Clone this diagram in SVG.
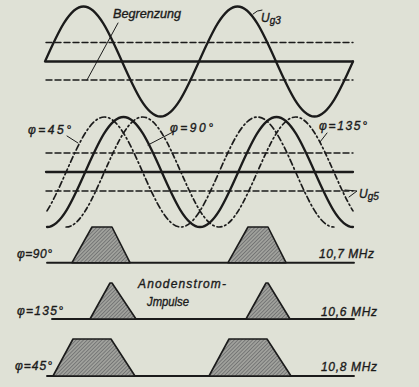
<svg xmlns="http://www.w3.org/2000/svg" width="419" height="387" viewBox="0 0 419 387">
<defs>
<style>
.bg{fill:#dfe1d6}
.ln{fill:none;stroke:#1b1b1b;stroke-linecap:round;stroke-linejoin:round}
.sol{stroke-width:2.3}
.base{stroke-width:1.9}
.lim{stroke-width:1.4;stroke-dasharray:6 3}
.dd{stroke-width:1.7;stroke-dasharray:6 3 1.5 3}
.dd2{stroke-width:1.7;stroke-dasharray:5 3 1.5 3}
.lead{stroke-width:1}
.pulse{fill:url(#hatch);stroke:#1b1b1b;stroke-width:1.6;stroke-linejoin:round}
text{font-family:"Liberation Sans",Arial,sans-serif;font-style:italic;fill:#1b1b1b;stroke:#1b1b1b;stroke-width:0.35;font-size:12px}
.sub{font-size:10px}
</style>
<pattern id="hatch" patternUnits="userSpaceOnUse" width="2.6" height="2.6" patternTransform="rotate(45)">
<rect width="2.6" height="2.6" fill="#a0a19c"/>
<line x1="0" y1="0" x2="0" y2="2.6" stroke="#505154" stroke-width="1"/>
</pattern>
</defs>
<rect class="bg" x="0" y="0" width="419" height="387"/>

<g id="top-waveform">
<line class="ln lim" x1="46" y1="42.5" x2="353" y2="42.5"/>
<line class="ln sol" x1="46" y1="61.5" x2="353" y2="61.5"/>
<line class="ln lim" x1="46" y1="80" x2="353" y2="80"/>
<path class="ln sol" d="M45,61.5 C57.56,33.32 69.57,6.5 83.5,6.5 C97.43,6.5 109.45,33.32 122,61.5 C134.56,89.68 146.57,116.5 160.5,116.5 C174.43,116.5 186.45,89.68 199,61.5 C211.56,33.32 223.57,6.5 237.5,6.5 C251.43,6.5 263.45,33.32 276,61.5 C288.56,89.68 300.57,116.5 314.5,116.5 C328.43,116.5 340.45,89.68 353,61.5"/>
</g>

<g id="middle-waveforms">
<line class="ln lim" x1="46" y1="153" x2="353" y2="153"/>
<line class="ln sol" x1="46" y1="172" x2="353" y2="172"/>
<line class="ln lim" x1="46" y1="191" x2="353" y2="191"/>
<path id="phi90" class="ln sol" d="M47,227 C60.84,227 72.78,200.18 85.25,172 C97.72,143.82 109.66,117 123.5,117 C137.34,117 149.28,143.82 161.75,172 C174.22,200.18 186.16,227 200,227 C213.84,227 225.78,200.18 238.25,172 C250.72,143.82 262.66,117 276.5,117 C290.34,117 302.28,143.82 314.75,172 C327.22,200.18 339.16,227 353,227"/>
<path id="phi45" class="ln dd" d="M47,210.89 C53.38,200.71 59.75,186.4 66.13,172 C78.6,143.82 90.53,117 104.38,117 C118.22,117 130.15,143.82 142.63,172 C155.1,200.18 167.03,227 180.88,227 C194.72,227 206.65,200.18 219.13,172 C231.6,143.82 243.53,117 257.38,117 C271.22,117 283.15,143.82 295.63,172 C308.1,200.18 320.03,227 333.88,227"/>
<path id="phi135" class="ln dd2" d="M66.13,227 C79.97,227 91.9,200.18 104.38,172 C116.85,143.82 128.78,117 142.63,117 C156.47,117 168.4,143.82 180.88,172 C193.35,200.18 205.28,227 219.13,227 C232.97,227 244.9,200.18 257.38,172 C269.85,143.82 281.78,117 295.63,117 C309.47,117 321.4,143.82 333.88,172 C340.25,186.4 346.63,200.71 353,210.89"/>
</g>

<g id="leaders">
<line class="ln lead" x1="118" y1="23" x2="87" y2="80"/>
<path class="ln lead" d="M253,14 Q257,10 262,10"/>
<line class="ln lead" x1="67" y1="136" x2="78" y2="143"/>
<line class="ln lead" x1="173" y1="132" x2="148" y2="145"/>
<line class="ln lead" x1="327" y1="133" x2="320" y2="142"/>
<path class="ln lead" d="M345,190 L357,191 L349,197"/>
</g>

<g id="labels">
<text x="113" y="18" font-size="12.5" textLength="68" lengthAdjust="spacingAndGlyphs">Begrenzung</text>
<text x="261" y="22">U<tspan class="sub" dy="2">g3</tspan></text>
<text x="28" y="134" textLength="43" lengthAdjust="spacing">φ=45°</text>
<text x="170" y="132" textLength="43" lengthAdjust="spacing">φ=90°</text>
<text x="319" y="130" textLength="48" lengthAdjust="spacing">φ=135°</text>
<text x="359" y="198">U<tspan class="sub" dy="2">g5</tspan></text>
</g>

<g id="row-10-7">
<line class="ln base" x1="47" y1="262.7" x2="354" y2="262.7"/>
<polygon class="pulse" points="72,262.7 92,227 112,227 130,262.7"/>
<polygon class="pulse" points="228,262.7 248,227 268,227 286,262.7"/>
<text x="17" y="258" font-size="11" textLength="35" lengthAdjust="spacing">φ=90°</text>
<text x="319" y="258" font-size="12.5" textLength="55" lengthAdjust="spacing">10,7 MHz</text>
</g>

<g id="row-10-6">
<line class="ln base" x1="52" y1="319" x2="354" y2="319"/>
<polygon class="pulse" points="90,319 110,283 112,283 136,319"/>
<polygon class="pulse" points="246,319 266,283 268,283 290,319"/>
<text x="17" y="315" font-size="11.5" textLength="46" lengthAdjust="spacing">φ=135°</text>
<text x="321" y="316" font-size="12.5" textLength="56" lengthAdjust="spacing">10,6 MHz</text>
<text x="138" y="288" font-size="12.5" textLength="88" lengthAdjust="spacing">Anodenstrom-</text>
<text x="147" y="306" font-size="12.5" textLength="42" lengthAdjust="spacingAndGlyphs">Jmpulse</text>
</g>

<g id="row-10-8">
<line class="ln base" x1="47" y1="376" x2="354" y2="376"/>
<polygon class="pulse" points="53,376 73,339 111,339 135,376"/>
<polygon class="pulse" points="209,376 229,339 267,339 291,376"/>
<text x="15" y="370" font-size="11" textLength="37" lengthAdjust="spacing">φ=45°</text>
<text x="321" y="371" font-size="12.5" textLength="56" lengthAdjust="spacing">10,8 MHz</text>
</g>
</svg>
